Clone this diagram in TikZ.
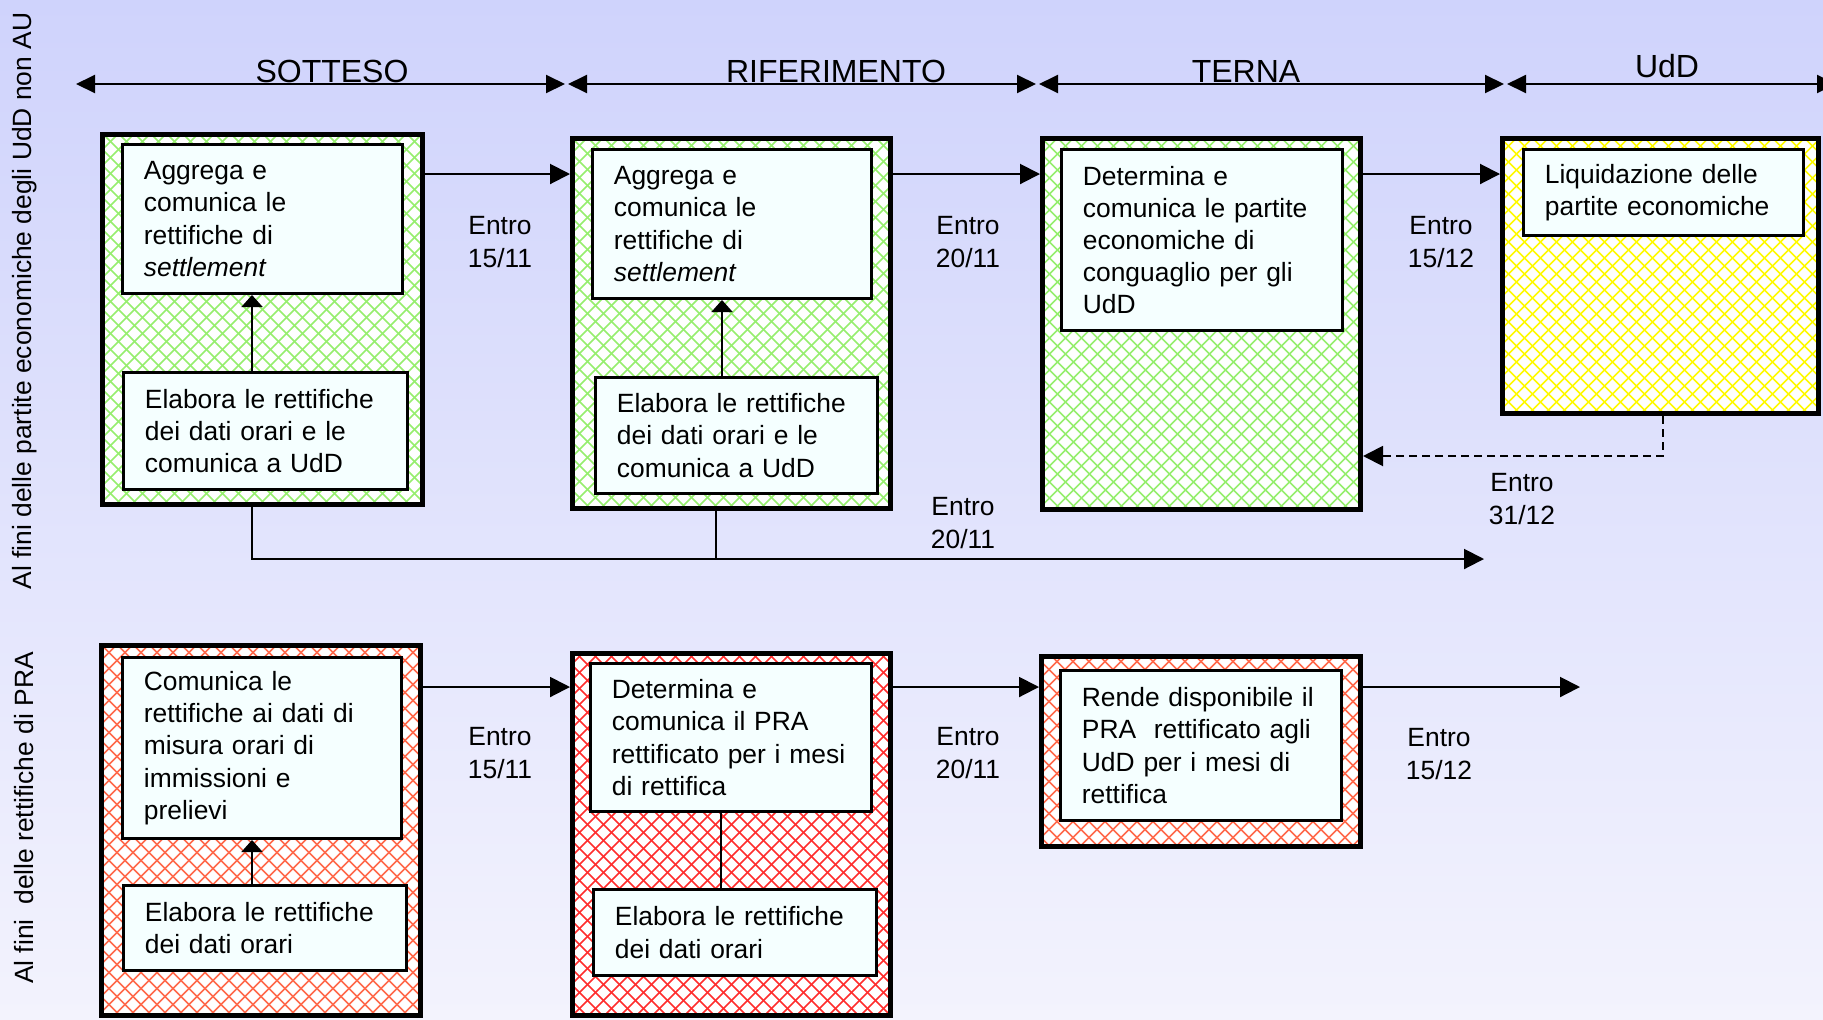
\documentclass[tikz,border=0pt]{standalone}
\usepackage{fontspec}
\setmainfont{Liberation Sans}
\usetikzlibrary{arrows.meta}
\definecolor{bgtop}{RGB}{207,211,252}
\definecolor{bgbot}{RGB}{243,243,253}
\definecolor{boxfill}{RGB}{245,255,255}
\definecolor{hgreen}{RGB}{150,238,110}
\definecolor{hyellow}{RGB}{255,250,0}
\definecolor{horange}{RGB}{255,105,75}
\definecolor{hred}{RGB}{255,45,45}
\newcommand\bodyfont{\fontsize{13.2}{16.1}\selectfont}
\newcommand\hdrfont{\fontsize{16}{19}\selectfont}
\tikzset{
  obox/.style={draw=black, line width=2.5pt, fill=white, inner sep=0pt,
    path picture={
      \foreach \k in {-42,...,42}{\draw[draw=#1,line width=0.8pt] (\k*16,-250) -- ++(520,520) (\k*16,-250) -- ++(-520,520);}
    }},
  ibox/.style={draw=black, line width=1.3pt, fill=boxfill, inner xsep=10.8pt, inner ysep=2pt, align=left, font=\bodyfont},
  lbl/.style={align=center, font=\bodyfont, inner sep=0pt},
  hdr/.style={font=\hdrfont, inner sep=0pt, anchor=base},
  vlbl/.style={font=\bodyfont, rotate=90, inner sep=0pt},
  conn/.style={line width=1pt, -{Triangle[length=10pt,width=10pt]}},
  iconn/.style={line width=1pt, -{Triangle[length=6pt,width=10.5pt]}},
  plain/.style={line width=1pt},
  harrow/.style={line width=1pt, {Triangle[length=9.5pt,width=9pt]}-{Triangle[length=9.5pt,width=9pt]}},
}
\newcommand\OBox[6]{%
  \pgfmathsetmacro\obcx{(#2+#4)/2}%
  \pgfmathsetmacro\obcy{(#3+#5)/2}%
  \pgfmathsetmacro\obw{(#4-#2-5)/2}%
  \pgfmathsetmacro\obh{(#5-#3-5)/2}%
  \node[obox=#6, minimum width=\obw pt, minimum height=\obh pt] (#1) at (\obcx,\obcy) {};}
\newcommand\IBox[6]{%
  \pgfmathsetmacro\ibcx{(#2+#4)/2}%
  \pgfmathsetmacro\ibcy{(#3+#5)/2}%
  \pgfmathsetmacro\ibw{(#4-#2-2.6)/2-21.6}%
  \pgfmathsetmacro\ibh{(#5-#3-2.6)/2}%
  \node[ibox, text width=\ibw pt, minimum height=\ibh pt] (#1) at (\ibcx,\ibcy) {#6};}
\begin{document}
\begin{tikzpicture}[x=0.5pt,y=-0.5pt]
\useasboundingbox (0,0) rectangle (1823,1019);
\clip (0,0) rectangle (1823,1019);
\shade[top color=bgtop, bottom color=bgbot] (0,0) rectangle (1823,1019);

% side labels
\node[vlbl] (v1) at (25,301) {Al fini delle partite economiche degli UdD non AU};
\node[vlbl] (v2) at (24,818) {Al fini\ \ delle rettifiche di PRA};

% header
\coordinate (s0) at (76,84);
\coordinate (s1) at (565,84);
\coordinate (s2) at (568,84);
\coordinate (s3) at (1036,84);
\coordinate (s4) at (1039,84);
\coordinate (s5) at (1504,84);
\coordinate (s6) at (1507,84);
\coordinate (s7) at (1836,84);
\draw[harrow] (s0) -- (s1);
\draw[harrow] (s2) -- (s3);
\draw[harrow] (s4) -- (s5);
\draw[harrow] (s6) -- (s7);
\node[hdr] (h1) at (332,82) {SOTTESO};
\node[hdr] (h2) at (836,82) {RIFERIMENTO};
\node[hdr] (h3) at (1246,82) {TERNA};
\node[hdr] (h4) at (1667,77) {UdD};

% outer boxes
\OBox{B1}{100}{132}{425}{507}{hgreen}
\OBox{B2}{570}{136}{893}{511}{hgreen}
\OBox{B3}{1040}{136}{1363}{512}{hgreen}
\OBox{B4}{1500}{136}{1821}{416}{hyellow}
\OBox{C1}{99}{643}{423}{1018}{horange}
\OBox{C2}{570}{651}{893}{1018}{hred}
\OBox{C3}{1039}{654}{1363}{849}{horange}

% inner boxes
\IBox{B1a}{121}{143}{404}{295}{Aggrega e\\comunica le\\rettifiche di\\\textit{settlement}}
\IBox{B1b}{122}{371}{409}{491}{Elabora le rettifiche\\dei dati orari e le\\comunica a UdD}
\IBox{B2a}{591}{148}{873}{300}{Aggrega e\\comunica le\\rettifiche di\\\textit{settlement}}
\IBox{B2b}{594}{376}{879}{495}{Elabora le rettifiche\\dei dati orari e le\\comunica a UdD}
\IBox{B3a}{1060}{148}{1344}{332}{Determina e\\comunica le partite\\economiche di\\conguaglio per gli\\UdD}
\IBox{B4a}{1522}{148}{1805}{237}{Liquidazione delle\\partite economiche}
\IBox{C1a}{121}{656}{403}{840}{Comunica le\\rettifiche ai dati di\\misura orari di\\immissioni e\\prelievi}
\IBox{C1b}{122}{884}{408}{972}{Elabora le rettifiche\\dei dati orari}
\IBox{C2a}{589}{662}{873}{813}{Determina e\\comunica il PRA\\rettificato per i mesi\\di rettifica}
\IBox{C2b}{592}{888}{878}{977}{Elabora le rettifiche\\dei dati orari}
\IBox{C3a}{1059}{669}{1343}{822}{Rende disponibile il\\PRA\ \ rettificato agli\\UdD per i mesi di\\rettifica}

% helper coordinates
\coordinate (yA) at (0,174);
\coordinate (yB) at (0,687);
\coordinate (xa1) at (252,0);
\coordinate (xa2) at (722,0);
\coordinate (xa3) at (721,0);
\coordinate (xl2) at (716,0);
\coordinate (lend) at (1484,559);
\coordinate (xd) at (1663,0);
\coordinate (yd) at (0,456);
\coordinate (cend) at (1580,687);

% connectors
\draw[conn] (B1.east |- yA) -- (B2.west |- yA);
\draw[conn] (B2.east |- yA) -- (B3.west |- yA);
\draw[conn] (B3.east |- yA) -- (B4.west |- yA);
\draw[conn] (C1.east |- yB) -- (C2.west |- yB);
\draw[conn] (C2.east |- yB) -- (C3.west |- yB);
\draw[conn] (C3.east |- yB) -- (cend);
\draw[iconn] (B1b.north -| xa1) -- (B1a.south -| xa1);
\draw[iconn] (B2b.north -| xa2) -- (B2a.south -| xa2);
\draw[iconn] (C1b.north -| xa1) -- (C1a.south -| xa1);
\draw[plain] (C2b.north -| xa3) -- (C2a.south -| xa3);
\draw[conn] (B1.south -| xa1) |- (lend);
\draw[plain] (B2.south -| xl2) -- (xl2 |- lend);
\draw[conn, dash pattern=on 4pt off 2.5pt] (B4.south -| xd) |- (B3.east |- yd);

% labels
\node[lbl] (e1) at (500,242) {Entro\\15/11};
\node[lbl] (e2) at (968,242) {Entro\\20/11};
\node[lbl] (e3) at (1441,242) {Entro\\15/12};
\node[lbl] (e4) at (1522,499) {Entro\\31/12};
\node[lbl] (e5) at (963,523) {Entro\\20/11};
\node[lbl] (e6) at (500,753) {Entro\\15/11};
\node[lbl] (e7) at (968,753) {Entro\\20/11};
\node[lbl] (e8) at (1439,754) {Entro\\15/12};
\end{tikzpicture}
\end{document}
